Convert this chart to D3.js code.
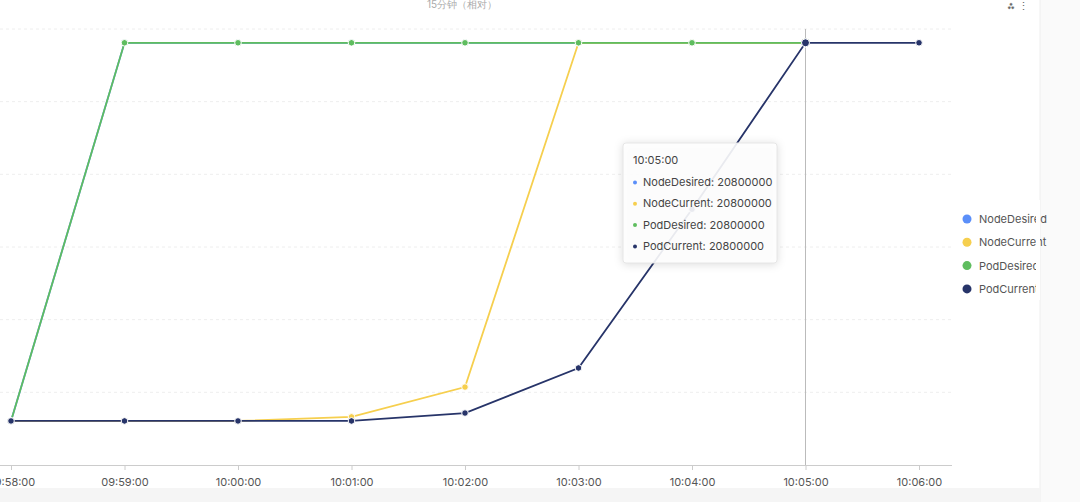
<!DOCTYPE html>
<html><head><meta charset="utf-8">
<script src="https://cdn.jsdelivr.net/npm/d3@7"></script>
<style>body{margin:0;background:#fff;font-family:Inter,"Noto Sans",sans-serif}</style>
</head><body><svg id="c" width="1080" height="502"></svg>
<script>
const times = ["09:58:00","09:59:00","10:00:00","10:01:00","10:02:00","10:03:00","10:04:00","10:05:00","10:06:00"];
const seriesNames = ["NodeDesired","NodeCurrent","PodDesired","PodCurrent"];
const colors = ["#5B8FF9","#F6CF4E","#5FBD5F","#273469"];
const nodeDesired = [2170000,20800000,20800000,20800000,20800000,20800000,20800000,20800000,null];
const nodeCurrent = [2170000,2170000,2170000,2370000,3840000,20800000,20800000,20800000,null];
const podDesired  = [2170000,20800000,20800000,20800000,20800000,20800000,20800000,20800000,null];
const podCurrent  = [2170000,2170000,2170000,2170000,2560000,4780000,12600000,20800000,20800000];
const yTicks = [0,3580000,7160000,10740000,14320000,17900000,21480000];
const hoverIndex = 7;

const svg = d3.select("#c");
const x = d3.scalePoint().domain(times).range([11,919]);
const y = d3.scaleLinear().domain([0,21480000]).range([465,29]);

svg.append("rect").attr("x",1040).attr("y",0).attr("width",40).attr("height",502).attr("fill","#fafafa");
svg.append("line").attr("x1",1040).attr("x2",1040).attr("y1",0).attr("y2",502).attr("stroke","#eee");
svg.append("rect").attr("x",0).attr("y",488).attr("width",1040).attr("height",14).attr("fill","#f5f5f5");

svg.append("text").attr("x",462).attr("y",8).attr("text-anchor","middle").attr("font-size",10).attr("fill","#aaa").text("15分钟（相对）");
svg.append("text").attr("x",1018).attr("y",10).attr("text-anchor","middle").attr("font-size",11).attr("fill","#666").text("⁂ ⋮");

// grid
svg.append("g").selectAll("line").data(yTicks.slice(1)).join("line")
  .attr("x1",0).attr("x2",952).attr("y1",d=>y(d)).attr("y2",d=>y(d))
  .attr("stroke","#eee").attr("stroke-dasharray","3,3");

const xa = svg.append("g").attr("transform","translate(0,465)").call(d3.axisBottom(x).tickSize(5).tickPadding(8));
xa.select(".domain").attr("stroke","#ccc").attr("d","M0,0.5H952");
xa.selectAll(".tick line").attr("stroke","#ccc");
xa.selectAll("text").attr("font-size",11).attr("fill","#555").attr("font-family","Inter,sans-serif");

// crosshair
svg.append("line").attr("x1",x(times[hoverIndex])).attr("x2",x(times[hoverIndex])).attr("y1",29).attr("y2",465).attr("stroke","#bbb");

const data = [nodeDesired,nodeCurrent,podDesired,podCurrent];
const line = d3.line().defined(d=>d!=null).x((d,i)=>x(times[i])).y(d=>y(d));
data.forEach((s,k)=>{
  svg.append("path").attr("d",line(s)).attr("fill","none").attr("stroke",colors[k]).attr("stroke-width",1.8);
  svg.append("g").selectAll("circle").data(s.map((v,i)=>[v,i]).filter(d=>d[0]!=null)).join("circle")
    .attr("cx",d=>x(times[d[1]])).attr("cy",d=>y(d[0])).attr("r",d=>d[1]===hoverIndex?4:3.3)
    .attr("fill",colors[k]).attr("stroke","#fff").attr("stroke-width",1);
});

// legend
seriesNames.forEach((n,i)=>{
  const g = svg.append("g").attr("transform",`translate(967,${219+i*23.3})`);
  g.append("circle").attr("r",4.5).attr("fill",colors[i]);
  g.append("text").attr("x",12).attr("y",4).attr("font-size",11).attr("fill","#555").text(n);
});
svg.append("rect").attr("x",1036).attr("y",200).attr("width",4).attr("height",100).attr("fill","#fff");

// tooltip
const tg = svg.append("g").attr("transform","translate(623,143)");
tg.append("rect").attr("width",154).attr("height",120).attr("rx",3).attr("fill","rgba(255,255,255,0.9)")
  .attr("stroke","#e6e6e6").style("filter","drop-shadow(0 1px 4px rgba(0,0,0,0.15))");
tg.append("text").attr("x",10).attr("y",21).attr("font-size",11).attr("fill","#444").text(times[hoverIndex]);
seriesNames.forEach((n,i)=>{
  tg.append("circle").attr("cx",12).attr("cy",39.5+i*21.3).attr("r",2).attr("fill",colors[i]);
  tg.append("text").attr("x",20).attr("y",43+i*21.3).attr("font-size",11).attr("fill","#444")
    .text(`${n}: ${data[i][hoverIndex]}`);
});
</script></body></html>
